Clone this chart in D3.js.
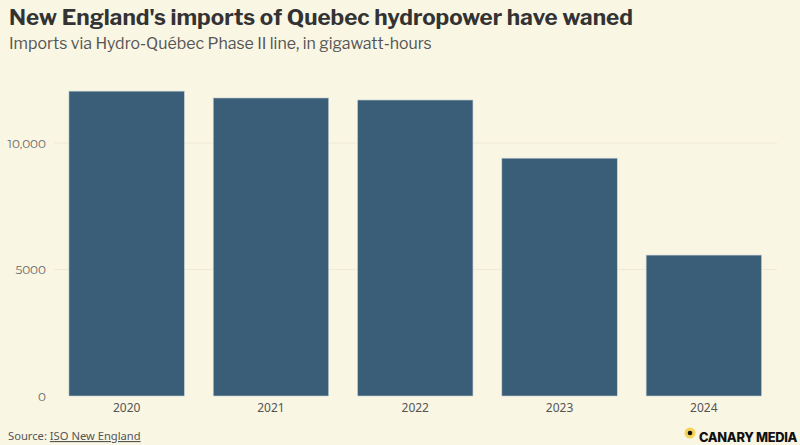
<!DOCTYPE html>
<html><head><meta charset="utf-8">
<script src="https://cdn.jsdelivr.net/npm/d3@7"></script>
<style>
body{margin:0;background:#f9f6e4;}
svg{display:block;}
</style></head><body>
<svg id="c" width="800" height="445"></svg>
<script>
const years = ["2020","2021","2022","2023","2024"];
const imports = [12050, 11780, 11700, 9400, 5570];
const yTicks = [0, 5000, 10000];
const yTickLabels = ["0", "5000", "10,000"];

const svg = d3.select("#c");
const W = 800, H = 445;
svg.append("rect").attr("width", W).attr("height", H).attr("fill", "#f9f6e4");

const x = d3.scaleBand().domain(years).range([54.5, 776]).paddingInner(0.2).paddingOuter(0.1);
const y = d3.scaleLinear().domain([0, 10000]).range([396, 143]);

// gridlines
svg.append("g").selectAll("line").data(yTicks.filter(d => d > 0)).join("line")
  .attr("x1", 54).attr("x2", 777)
  .attr("y1", d => y(d)).attr("y2", d => y(d))
  .attr("stroke", "#efead6").attr("stroke-width", 1);

// bars
svg.append("g").selectAll("rect").data(years).join("rect")
  .attr("x", d => x(d)).attr("width", x.bandwidth())
  .attr("y", (d, i) => y(imports[i]))
  .attr("height", (d, i) => y(0) - y(imports[i]))
  .attr("fill", "#3a5e78").attr("stroke", "#c9d3d6").attr("stroke-width", 0.6);

// y axis labels
const yAxis = d3.axisLeft(y).tickValues(yTicks).tickSize(0).tickPadding(0)
  .tickFormat((d, i) => yTickLabels[i]);
const gy = svg.append("g").attr("transform", "translate(46,0)").call(yAxis);
gy.select(".domain").remove();
gy.selectAll("text").attr("font-family", "Montserrat, 'Open Sans', sans-serif")
  .attr("font-size", 12).attr("fill", "#666").attr("dy", "0.35em");

// x axis labels
const xAxis = d3.axisBottom(x).tickSize(0).tickPadding(0);
const gx = svg.append("g").attr("transform", "translate(0,403)").call(xAxis);
gx.select(".domain").remove();
gx.selectAll("text").attr("font-family", "'Noto Sans', sans-serif")
  .attr("font-size", 12).attr("fill", "#555").attr("dy", "0.71em");

// title
svg.append("text").attr("x", 9).attr("y", 25)
  .attr("font-family", "'Libre Franklin', Inter, sans-serif").attr("font-weight", 700)
  .attr("font-size", 22.4).attr("fill", "#333")
  .text("New England's imports of Quebec hydropower have waned");
svg.append("text").attr("x", 9).attr("y", 49)
  .attr("font-family", "'Libre Franklin', Inter, sans-serif")
  .attr("font-size", 15.9).attr("fill", "#555")
  .text("Imports via Hydro-Québec Phase II line, in gigawatt-hours");

// source
const src = svg.append("text").attr("x", 8).attr("y", 440)
  .attr("font-family", "'Noto Sans', sans-serif").attr("font-size", 11.2).attr("fill", "#555");
src.append("tspan").text("Source: ");
src.append("tspan").attr("text-decoration", "underline").text("ISO New England");

// logo
svg.append("circle").attr("cx", 690).attr("cy", 433).attr("r", 5.5).attr("fill", "#f3d35a");
svg.append("circle").attr("cx", 690).attr("cy", 433).attr("r", 2.3).attr("fill", "#111");
svg.append("text").attr("x", 699).attr("y", 442)
  .attr("font-family", "Inter, sans-serif").attr("font-weight", 800)
  .attr("font-size", 12.8).attr("fill", "#111").attr("letter-spacing", -0.3)
  .text("CANARY MEDIA");
</script>
</body></html>
